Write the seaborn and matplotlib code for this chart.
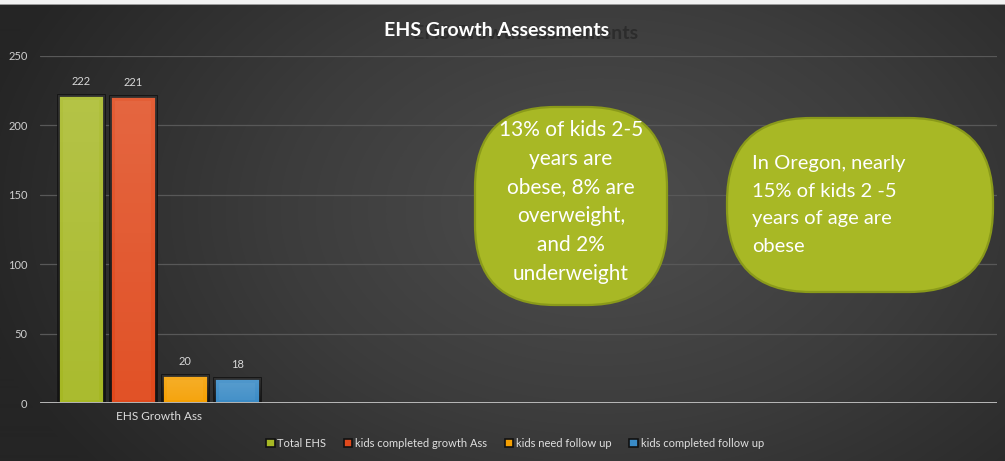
import numpy as np
import pandas as pd
import matplotlib
matplotlib.use("Agg")
import matplotlib.pyplot as plt
from matplotlib.patches import FancyBboxPatch, Rectangle, Patch
from matplotlib.colors import LinearSegmentedColormap
import seaborn as sns

# ---- data ----
categories = ["EHS Growth Ass"]
series = ["Total EHS", "kids completed growth Ass", "kids need follow up", "kids completed follow up"]
values = [222, 221, 20, 18]
bar_colors = ["#a6b824", "#e0491c", "#f5a002", "#3a8bc6"]
y_ticks = [0, 50, 100, 150, 200, 250]

title = "EHS Growth Assessments"
note_left = "13% of kids 2-5\nyears are\nobese, 8% are\noverweight,\nand 2%\nunderweight"
note_right = "In Oregon, nearly\n15% of kids 2 -5\nyears of age are\nobese"

df = pd.DataFrame({
    "category": categories * len(series),
    "series": series,
    "count": values,
})

sns.set_theme(style="dark")
plt.rcParams["font.family"] = ["Lato", "DejaVu Sans"]

W, H = 1005, 461
fig = plt.figure(figsize=(W / 100, H / 100), dpi=100)

# dark radial backdrop
bg = fig.add_axes([0, 0, 1, 1], zorder=-5)
yy, xx = np.mgrid[0:H, 0:W]
r = np.sqrt(((xx - 600) / 640.0) ** 2 + ((yy - 210) / 430.0) ** 2)
r = np.clip(r, 0, 1)
bg_cmap = LinearSegmentedColormap.from_list("bg", ["#4e4e4e", "#3c3c3c", "#252525"])
bg.imshow(r, cmap=bg_cmap, extent=[0, W, H, 0], aspect="auto", interpolation="bilinear")
bg.set_xlim(0, W)
bg.set_ylim(H, 0)
bg.axis("off")
bg.add_patch(Rectangle((0, 0), W, 4, color="#f2f2f2", lw=0))
bg.add_patch(Rectangle((0, 4), W, 1.2, color="#9a9a9a", lw=0))

ax = fig.add_axes([40 / W, (H - 403) / H, (997 - 40) / W, (403 - 56) / H])
ax.set_facecolor("none")

sns.barplot(data=df, x="category", y="count", hue="series", palette=bar_colors,
            saturation=1, width=0.8, gap=0.115, edgecolor="#141414", linewidth=2,
            legend=False, ax=ax, zorder=3)

ax.set_ylim(0, 250)
ax.set_xlim(-0.458, 3.22)
ax.set_yticks(y_ticks)
ax.set_xlabel("")
ax.set_ylabel("")
for s in ax.spines.values():
    s.set_visible(False)
ax.yaxis.grid(True, color="#585858", lw=0.9, zorder=0)
ax.xaxis.grid(False)
ax.axhline(0, color="#c4c4c4", lw=2, zorder=4)
ax.tick_params(axis="y", length=0, pad=9, labelsize=8, labelcolor="#cfcfcf")
ax.tick_params(axis="x", length=0, pad=6, labelsize=8.5, labelcolor="#dddddd")

# soft highlight inside each bar, brighter toward the top
shade = np.linspace(0.12, 0.0, 64).reshape(-1, 1)
rgba = np.dstack([np.ones((64, 1))] * 3 + [shade])
for p in ax.patches:
    x0, y0 = p.get_x(), p.get_y()
    w, h = p.get_width(), p.get_height()
    im = ax.imshow(rgba, extent=[x0, x0 + w, y0, y0 + h], aspect="auto",
                   zorder=3.5, interpolation="bilinear")
    im.set_clip_path(p)
    inset_x = w * 0.11
    ax.add_patch(Rectangle((x0 + inset_x, y0 + 2), w - 2 * inset_x, max(h - 5.5, 0),
                           facecolor="white", alpha=0.05, lw=0, zorder=3.6))

for cont in ax.containers:
    ax.bar_label(cont, padding=6, color="#d8d8d8", fontsize=8)

# title with its dark offset shadow
fig.text(497 / W + 29 / W, 1 - 33 / H, title, ha="center", va="center",
         fontsize=14, fontweight="bold", color="#2c2c2c")
fig.text(497 / W, 1 - 31 / H, title, ha="center", va="center",
         fontsize=14, fontweight="bold", color="white")

# callout bubbles
def bubble(x0, y0, x1, y1, rad):
    patch = FancyBboxPatch((x0 / 100, (H - y1) / 100), (x1 - x0) / 100, (y1 - y0) / 100,
                           boxstyle=f"round,pad=0,rounding_size={rad / 100}",
                           transform=fig.dpi_scale_trans, facecolor="#a8b825",
                           edgecolor="#8a9a1a", lw=1.6, zorder=10)
    fig.add_artist(patch)

bubble(475, 107, 667, 305, 80)
bubble(727, 118, 993, 292, 84)

fig.text(571 / W, 1 - 202 / H, note_left, ha="center", va="center",
         multialignment="center", fontsize=15, color="white", linespacing=1.56, zorder=11)
fig.text(752 / W, 1 - 205 / H, note_right, ha="left", va="center",
         multialignment="left", fontsize=14.5, color="white", linespacing=1.77, zorder=11)

handles = [Patch(facecolor=c, edgecolor="#111111", lw=1.2) for c in bar_colors]
fig.legend(handles, series, loc="center", bbox_to_anchor=(515 / W, 1 - 443 / H),
           ncol=4, frameon=False, fontsize=8, labelcolor="#e0e0e0",
           handlelength=0.75, handleheight=0.75, handletextpad=0.25, columnspacing=1.6)

fig.savefig("out.png", dpi=100)
